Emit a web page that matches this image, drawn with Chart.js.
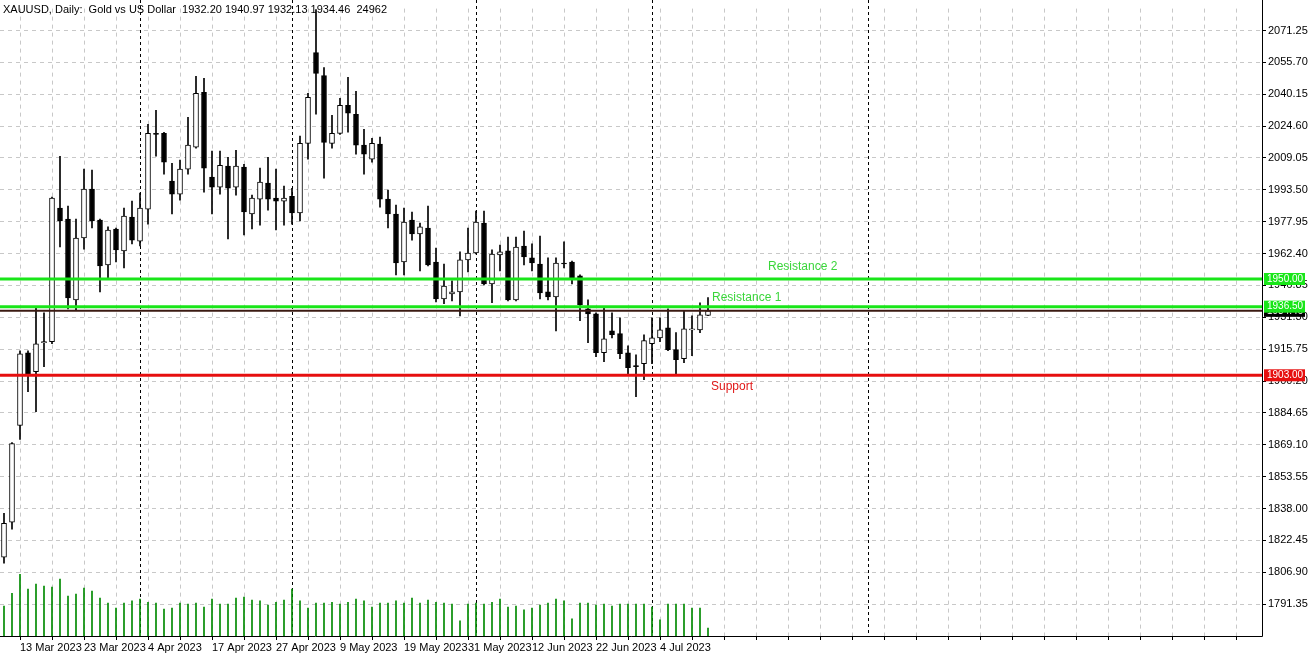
<!DOCTYPE html>
<html>
<head>
<meta charset="utf-8">
<script src="https://cdn.jsdelivr.net/npm/chart.js@4"></script>
<style>
  html, body { margin: 0; padding: 0; background: #fff; overflow: hidden; }
  canvas { display: block; }
</style>
</head>
<body>
<canvas id="c" width="1313" height="655"></canvas>
<script>
// XAUUSD daily, 9 Mar 2023 .. 14 Jul 2023
const opens = [1814.2,1831.3,1878.5,1914.0,1904.8,1918.9,1919.4,1984.6,1979.3,1939.8,
  1970.0,1993.9,1978.8,1956.9,1974.4,1963.7,1980.2,1968.5,1984.1,2021.1,
  2021.1,1997.8,1991.4,2003.6,2014.3,2041.1,1999.7,1994.8,2005.1,1994.8,
  2004.6,1981.7,1989.0,1996.8,1989.5,1988.0,1990.4,1982.2,2016.2,2060.5,
  2049.3,2016.2,2021.1,2034.7,2030.4,2015.3,2008.5,2015.8,1989.0,1981.7,
  1958.3,1978.8,1972.0,1974.9,1958.3,1940.3,1942.7,1943.7,1959.3,1962.7,
  1977.3,1947.6,1961.7,1963.7,1939.8,1966.1,1960.3,1957.3,1943.7,1941.3,
  1957.8,1958.3,1951.5,1935.4,1933.0,1914.0,1924.7,1923.3,1914.0,1907.7,
  1908.7,1918.4,1921.3,1926.2,1915.5,1911.1,1925.2,1925.2,1932.20];
const highs = [1835.6,1870.2,1915.0,1915.0,1935.9,1933.5,1990.0,2009.9,1985.6,1979.3,
  2003.6,2003.1,1979.3,1975.4,1974.9,1984.6,1988.0,1991.9,2025.5,2032.3,
  2021.6,2006.5,2008.0,2028.9,2048.9,2047.9,2012.4,2012.4,2009.4,2012.8,
  2006.0,1990.9,2004.1,2009.4,2003.6,1995.3,1994.3,2019.7,2040.6,2081.5,
  2053.2,2029.9,2038.2,2048.4,2041.6,2023.1,2018.7,2019.2,1993.4,1986.1,
  1984.6,1982.7,1977.3,1985.6,1965.1,1957.3,1949.1,1963.2,1974.9,1983.1,
  1983.1,1964.2,1966.6,1970.5,1970.5,1973.4,1967.1,1971.0,1960.3,1960.3,
  1968.1,1958.8,1952.0,1939.8,1933.5,1935.9,1933.5,1931.1,1917.4,1913.0,
  1922.8,1931.1,1931.1,1935.4,1923.8,1934.5,1932.0,1938.4,1940.97];
const lows = [1811.3,1827.9,1871.7,1895.0,1885.3,1907.2,1918.4,1965.6,1935.4,1935.0,
  1964.6,1974.9,1943.7,1950.5,1958.3,1955.4,1967.1,1966.1,1976.8,2009.9,
  2001.2,1981.7,1988.5,2001.2,2013.8,1992.4,1981.7,1991.4,1969.5,1990.9,
  1971.5,1974.4,1976.3,1983.6,1973.9,1976.3,1976.8,1978.3,2008.5,2030.4,
  1999.2,2013.8,2020.6,2021.6,2010.9,2001.2,2007.0,1985.1,1974.9,1952.0,
  1952.0,1969.0,1953.9,1956.4,1938.8,1937.9,1939.3,1932.0,1953.5,1962.2,
  1947.1,1938.4,1953.9,1939.3,1939.3,1956.9,1953.9,1940.3,1939.8,1924.7,
  1955.4,1947.6,1929.6,1918.9,1912.1,1909.6,1921.3,1911.1,1903.8,1892.6,
  1900.9,1908.7,1919.4,1915.0,1903.3,1909.2,1912.6,1923.8,1932.13];
const closes = [1830.8,1869.7,1913.5,1903.8,1918.4,1919.4,1989.5,1978.3,1940.8,1970.0,
  1993.9,1978.3,1956.4,1973.9,1964.2,1980.7,1969.0,1984.6,2021.1,2020.6,
  2007.0,1991.4,2003.6,2015.3,2040.6,2004.1,1994.8,2005.5,1994.3,2005.1,
  1982.7,1989.5,1997.3,1989.0,1988.0,1989.5,1982.2,2016.2,2038.6,2050.3,
  2016.7,2021.1,2034.7,2030.9,2015.3,2010.9,2016.2,1989.0,1981.7,1957.8,
  1977.8,1972.0,1975.4,1956.9,1940.3,1946.6,1943.7,1959.3,1962.7,1977.8,
  1947.6,1962.2,1963.2,1939.8,1965.6,1960.8,1957.8,1943.2,1941.3,1957.8,
  1957.3,1950.5,1937.4,1933.0,1914.0,1920.8,1922.8,1913.5,1906.7,1907.2,
  1919.9,1921.3,1925.2,1915.5,1910.6,1925.7,1925.7,1932.5,1934.46];
// tick volume, thousands
const volumes = [93,133,192,146,161,155,152,177,124,130,149,140,118,102,87,102,109,115,105,102,
  84,87,102,99,102,90,115,99,99,118,121,112,109,96,105,112,146,109,87,102,
  102,105,99,105,115,109,90,102,102,109,102,118,102,112,105,102,99,47,99,102,
  99,105,115,90,93,81,87,96,102,115,109,53,102,102,96,99,93,99,99,99,
  99,90,50,99,99,99,87,87,25];

const dateTickIdx = [2,10,18,26,34,42,50,58,66,74,82];
const dateLabels = ['13 Mar 2023','23 Mar 2023','4 Apr 2023','17 Apr 2023','27 Apr 2023','9 May 2023',
  '19 May 2023','31 May 2023','12 Jun 2023','22 Jun 2023','4 Jul 2023'];
const priceTicks = [2071.25,2055.70,2040.15,2024.60,2009.05,1993.50,1977.95,1962.40,1946.85,
  1931.30,1915.75,1900.20,1884.65,1869.10,1853.55,1838.00,1822.45,1806.90,1791.35];
const separatorIdx = [17,36,59,81,108];
const levels = [
  { name: 'Resistance 2', price: 1950.00, color: '#19e619', text: '#3ad63a' },
  { name: 'Resistance 1', price: 1936.50, color: '#19e619', text: '#3ad63a' },
  { name: 'Support',      price: 1903.00, color: '#e60f0f', text: '#e01818' }
];
const lastPrice = 1934.46;

const bodies = opens.map((o, i) => ({ x: i, y: [o, closes[i]] }));
const wicks = lows.map((l, i) => ({ x: i, y: [l, highs[i]] }));
const vols = volumes.map((v, i) => ({ x: i, y: v }));
const bodyColors = opens.map((o, i) => closes[i] >= o ? '#ffffff' : '#000000');

const FONT = '"Liberation Sans", Arial, sans-serif';

const overlay = {
  id: 'overlay',
  beforeDatasetsDraw(chart) {
    const { ctx, chartArea: a, scales: { x } } = chart;
    ctx.save();
    // period separators
    ctx.strokeStyle = '#000';
    ctx.lineWidth = 1;
    ctx.setLineDash([3, 3]);
    separatorIdx.forEach(i => {
      const px = Math.round(x.getPixelForValue(i)) + 0.5;
      ctx.beginPath(); ctx.moveTo(px, 0); ctx.lineTo(px, a.bottom); ctx.stroke();
    });
    ctx.restore();
  },
  afterDatasetsDraw(chart) {
    const { ctx, chartArea: a, scales: { y } } = chart;
    ctx.save();
    // current price line
    const ly = y.getPixelForValue(lastPrice);
    ctx.strokeStyle = '#3b1a12';
    ctx.lineWidth = 2;
    ctx.beginPath(); ctx.moveTo(a.left, ly); ctx.lineTo(a.right, ly); ctx.stroke();
    levels.forEach(l => {
      const py = y.getPixelForValue(l.price);
      ctx.strokeStyle = l.color;
      ctx.lineWidth = 3;
      ctx.beginPath(); ctx.moveTo(a.left, py); ctx.lineTo(a.right, py); ctx.stroke();
    });
    ctx.font = '12px ' + FONT;
    ctx.textBaseline = 'middle';
    ctx.fillStyle = levels[0].text; ctx.fillText(levels[0].name, 768, 267);
    ctx.fillStyle = levels[1].text; ctx.fillText(levels[1].name, 712, 298);
    ctx.fillStyle = levels[2].text; ctx.fillText(levels[2].name, 711, 387);
    // axis border
    ctx.strokeStyle = '#000';
    ctx.lineWidth = 1;
    ctx.beginPath();
    ctx.moveTo(Math.round(a.right) + 0.5, 0);
    ctx.lineTo(Math.round(a.right) + 0.5, a.bottom + 0.5);
    ctx.lineTo(0, a.bottom + 0.5);
    ctx.stroke();
    // price tags on axis
    ctx.font = '10px ' + FONT;
    const tags = [{ price: lastPrice, bg: '#000' }].concat(levels.map(l => ({ price: l.price, bg: l.color })));
    tags.forEach(t => {
      const py = y.getPixelForValue(t.price);
      ctx.fillStyle = t.bg;
      ctx.fillRect(a.right + 2, py - 6, 41, 12);
      ctx.fillStyle = '#fff';
      ctx.textAlign = 'left';
      ctx.fillText(t.price.toFixed(2), a.right + 5, py);
    });
    // header
    ctx.fillStyle = '#000';
    ctx.font = '11px ' + FONT;
    ctx.fillText('XAUUSD, Daily:  Gold vs US Dollar  1932.20 1940.97 1932.13 1934.46  24962', 3, 10);
    ctx.restore();
  }
};

new Chart(document.getElementById('c'), {
  type: 'bar',
  data: {
    datasets: [
      { data: vols, yAxisID: 'yv', backgroundColor: '#008a00', barThickness: 1, order: 3, grouped: false },
      { data: wicks, yAxisID: 'y', backgroundColor: '#000', barThickness: 1, order: 2, grouped: false },
      { data: bodies, yAxisID: 'y', backgroundColor: bodyColors, borderColor: '#000', borderWidth: 1,
        borderSkipped: false, barThickness: 5, order: 1, grouped: false }
    ]
  },
  options: {
    responsive: false,
    animation: false,
    layout: { padding: 0 },
    plugins: { legend: { display: false }, tooltip: { enabled: false } },
    scales: {
      x: {
        type: 'linear',
        offset: false,
        min: -0.5,
        max: 157.25,
        afterFit: s => { s.height = 19; },
        afterBuildTicks: s => {
          const t = [];
          for (let i = 2; i <= 157; i += 4) t.push({ value: i });
          s.ticks = t;
        },
        grid: { color: '#c8c8c8', tickLength: 4, tickColor: '#000', offset: false },
        border: { display: false, dash: [4, 4] },
        ticks: {
          autoSkip: false, maxRotation: 0, align: 'start', padding: 1,
          color: '#000', font: { family: FONT, size: 11 },
          callback: v => { const k = dateTickIdx.indexOf(v); return k >= 0 ? dateLabels[k] : ''; }
        }
      },
      y: {
        position: 'right',
        min: 1775.77,
        max: 2081.96,
        afterFit: s => { s.width = 51; },
        afterBuildTicks: s => { s.ticks = priceTicks.map(v => ({ value: v })); },
        grid: { color: '#c8c8c8', tickLength: 4, tickColor: '#000' },
        border: { display: false, dash: [4, 4] },
        ticks: { color: '#000', padding: 2, font: { family: FONT, size: 11 }, callback: v => v.toFixed(2) }
      },
      yv: { display: false, min: 0, max: 1950 }
    }
  },
  plugins: [overlay]
});
</script>
</body>
</html>
